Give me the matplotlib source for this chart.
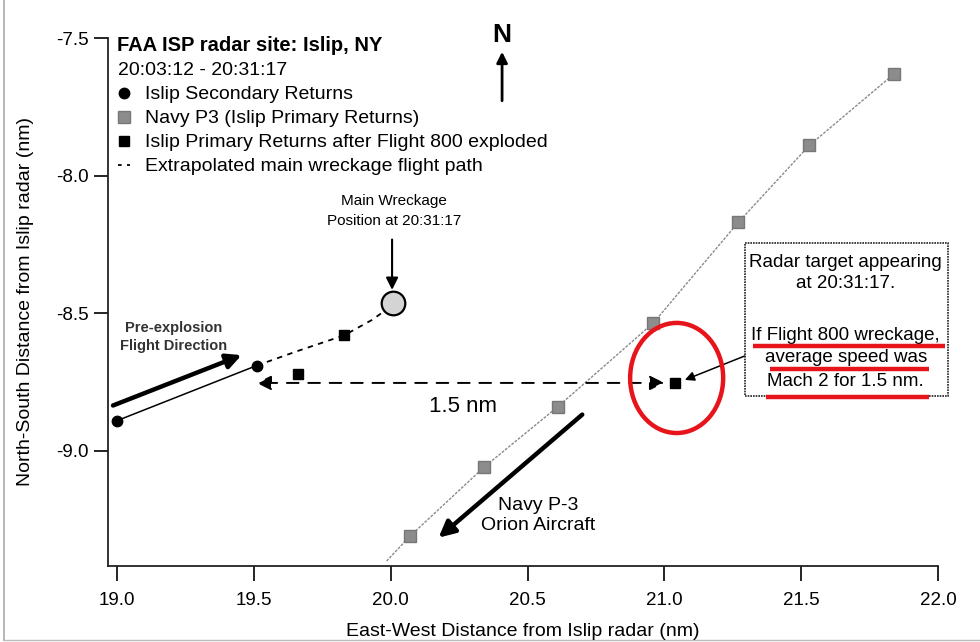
import matplotlib
matplotlib.use("Agg")
import matplotlib.pyplot as plt
from matplotlib.patches import Ellipse, Rectangle
from matplotlib.lines import Line2D

plt.rcParams['font.family'] = ['Liberation Sans', 'DejaVu Sans']
plt.rcParams['axes.unicode_minus'] = False

# ---------------- data (nm from Islip radar) ----------------
secondary_x = [19.00, 19.51]
secondary_y = [-8.89, -8.69]

primary_after_x = [19.66, 19.83, 21.04]
primary_after_y = [-8.72, -8.58, -8.753]

navy_x = [20.07, 20.34, 20.61, 20.96, 21.27, 21.53, 21.84]
navy_y = [-9.31, -9.06, -8.84, -8.535, -8.17, -7.89, -7.63]
navy_track_x = [19.985, 20.07, 20.34, 20.61, 20.96, 21.27, 21.53, 21.84]
navy_track_y = [-9.40, -9.31, -9.06, -8.84, -8.535, -8.17, -7.89, -7.63]

wreck_path_x = [19.51, 19.66, 19.83, 19.93, 19.98]
wreck_path_y = [-8.69, -8.637, -8.58, -8.525, -8.49]

wreck_x = [20.01]
wreck_y = [-8.462]

xticks = [19.0, 19.5, 20.0, 20.5, 21.0, 21.5, 22.0]
yticks = [-7.5, -8.0, -8.5, -9.0]

legend_labels = ["Islip Secondary Returns",
                 "Navy P3 (Islip Primary Returns)",
                 "Islip Primary Returns after Flight 800 exploded",
                 "Extrapolated main wreckage flight path"]

# ---------------- figure ----------------
fig = plt.figure(figsize=(9.8, 6.42), dpi=100)
ax = fig.add_axes([0.1097, 0.1184, 0.8474, 0.8224])
ax.set_xlim(18.965, 22.0)
ax.set_ylim(-9.418, -7.5)

for s in ['top', 'right']:
    ax.spines[s].set_visible(False)
for s in ['left', 'bottom']:
    ax.spines[s].set_linewidth(1.3)
    ax.spines[s].set_color('#222222')

ax.set_xticks(xticks)
ax.set_yticks(yticks)
ax.set_xticklabels([f"{v:.1f}" for v in xticks])
ax.set_yticklabels([f"{v:.1f}" for v in yticks])
ax.tick_params(axis='x', direction='out', length=11, width=1.2, pad=8, labelsize=13.5)
ax.tick_params(axis='y', direction='out', length=10, width=1.2, pad=3.5, labelsize=13.5)

ax.set_xlabel("East-West Distance from Islip radar (nm)", fontsize=14, labelpad=9.5)
ax.set_ylabel("North-South Distance from Islip radar (nm)", fontsize=14, labelpad=16)

# Navy P3 track
ax.plot(navy_track_x, navy_track_y, color='#8a8a8a', lw=1.0, ls=(0, (2, 1)), zorder=2)
ax.plot(navy_x, navy_y, ls='none', marker='s', ms=8.5, mfc='#8c8c8c', mec='#777777', zorder=3)

# Secondary returns
ax.plot(secondary_x, secondary_y, color='black', lw=1.1, marker='o', ms=7.5, zorder=3)

# extrapolated wreckage path
ax.plot(wreck_path_x, wreck_path_y, color='black', lw=1.3, ls=(0, (3, 3)), zorder=2)

# primary returns after explosion
ax.plot(primary_after_x, primary_after_y, ls='none', marker='s', ms=7.5, color='black', zorder=4)

# main wreckage position
ax.plot(wreck_x, wreck_y, ls='none', marker='o', ms=17, mfc='#d4d4d4', mec='black', mew=1.6, zorder=4)

# horizontal 1.5 nm double arrow
y_h = primary_after_y[2]
ax.annotate("", xy=(secondary_x[1], y_h), xytext=(21.0, y_h),
            arrowprops=dict(arrowstyle='<|-|>', color='black', lw=1.4, ls=(0, (6, 5)),
                            mutation_scale=22, shrinkA=0, shrinkB=0))
ax.text(20.265, -8.84, "1.5 nm", fontsize=16, ha='center', va='center')

# pre-explosion direction arrow
ax.annotate("", xy=(19.455, -8.652), xytext=(18.985, -8.835),
            arrowprops=dict(arrowstyle='-|>', color='black', lw=3.2, mutation_scale=22,
                            shrinkA=0, shrinkB=0))
ax.text(19.205, -8.586, "Pre-explosion\nFlight Direction", fontsize=10.5, fontweight='bold',
        color='#333333', ha='center', va='center', linespacing=1.35)

# Navy P-3 direction arrow
ax.annotate("", xy=(20.175, -9.315), xytext=(20.70, -8.868),
            arrowprops=dict(arrowstyle='-|>', color='black', lw=3.2, mutation_scale=24,
                            shrinkA=0, shrinkB=0))
ax.text(20.54, -9.235, "Navy P-3\nOrion Aircraft", fontsize=14, ha='center', va='center',
        linespacing=1.25)

# main wreckage label
ax.text(20.013, -8.128, "Main Wreckage\nPosition at 20:31:17", fontsize=11, ha='center',
        va='center', linespacing=1.5)
ax.annotate("", xy=(20.005, -8.415), xytext=(20.005, -8.232),
            arrowprops=dict(arrowstyle='-|>', color='black', lw=1.5, mutation_scale=18,
                            shrinkA=0, shrinkB=0))

# North arrow
ax.text(20.407, -7.49, "N", fontsize=19, fontweight='bold', ha='center', va='center',
        clip_on=False)
ax.annotate("", xy=(20.407, -7.55), xytext=(20.407, -7.728),
            arrowprops=dict(arrowstyle='-|>', color='black', lw=2.0, mutation_scale=16,
                            shrinkA=0, shrinkB=0), annotation_clip=False)

# annotation box
box = Rectangle((21.294, -8.802), 0.742, 0.558, fill=False, ec='#222222', lw=1.2,
                ls=(0, (1, 0.6)), clip_on=False, zorder=5)
ax.add_patch(box)
box_lines = [("Radar target appearing", -8.317), ("at 20:31:17.", -8.390),
             ("If Flight 800 wreckage,", -8.579), ("average speed was", -8.662),
             ("Mach 2 for 1.5 nm.", -8.749)]
for txt, yy in box_lines:
    ax.text(21.663, yy, txt, fontsize=13.5, ha='center', va='center', clip_on=False)
# red underlines
for x0, x1, yy in [(21.323, 22.025, -8.619), (21.385, 21.966, -8.702), (21.37, 21.966, -8.804)]:
    ax.plot([x0, x1], [yy, yy], color='#e8141c', lw=3.2, solid_capstyle='butt',
            clip_on=False, zorder=6)
ax.annotate("", xy=(21.075, -8.742), xytext=(21.294, -8.655),
            arrowprops=dict(arrowstyle='-|>', color='black', lw=1.1, mutation_scale=14,
                            shrinkA=0, shrinkB=0))

# red ellipse
ax.add_patch(Ellipse((21.045, -8.735), 0.34, 0.40, fill=False, ec='#e8141c', lw=3.2, zorder=6))

# legend block
ax.text(19.0, -7.527, "FAA ISP radar site: Islip, NY", fontsize=14.5, fontweight='bold',
        ha='left', va='center')
handles = [Line2D([], [], ls='none', marker='o', ms=7.5, color='black'),
           Line2D([], [], ls='none', marker='s', ms=8.5, mfc='#8c8c8c', mec='#777777'),
           Line2D([], [], ls='none', marker='s', ms=7.5, color='black'),
           Line2D([], [], color='black', lw=1.3, ls=(0, (2, 3)))]
leg = ax.legend(handles, legend_labels, title="20:03:12 - 20:31:17", loc='upper left',
                bbox_to_anchor=(0.0127, 0.954), frameon=False, fontsize=14,
                title_fontsize=14, alignment='left', handlelength=0.6, handletextpad=0.8,
                labelspacing=0.33, borderpad=0.0, borderaxespad=0.0)

# faint outer border of the scanned page
fig.add_artist(Line2D([0.004, 0.004], [0.003, 1.0], transform=fig.transFigure,
                      color='#aaaaaa', lw=1.2, zorder=0))
fig.add_artist(Line2D([0.004, 1.0], [0.003, 0.003], transform=fig.transFigure,
                      color='#bbbbbb', lw=1.0, zorder=0))

fig.savefig("out.png", dpi=100)
